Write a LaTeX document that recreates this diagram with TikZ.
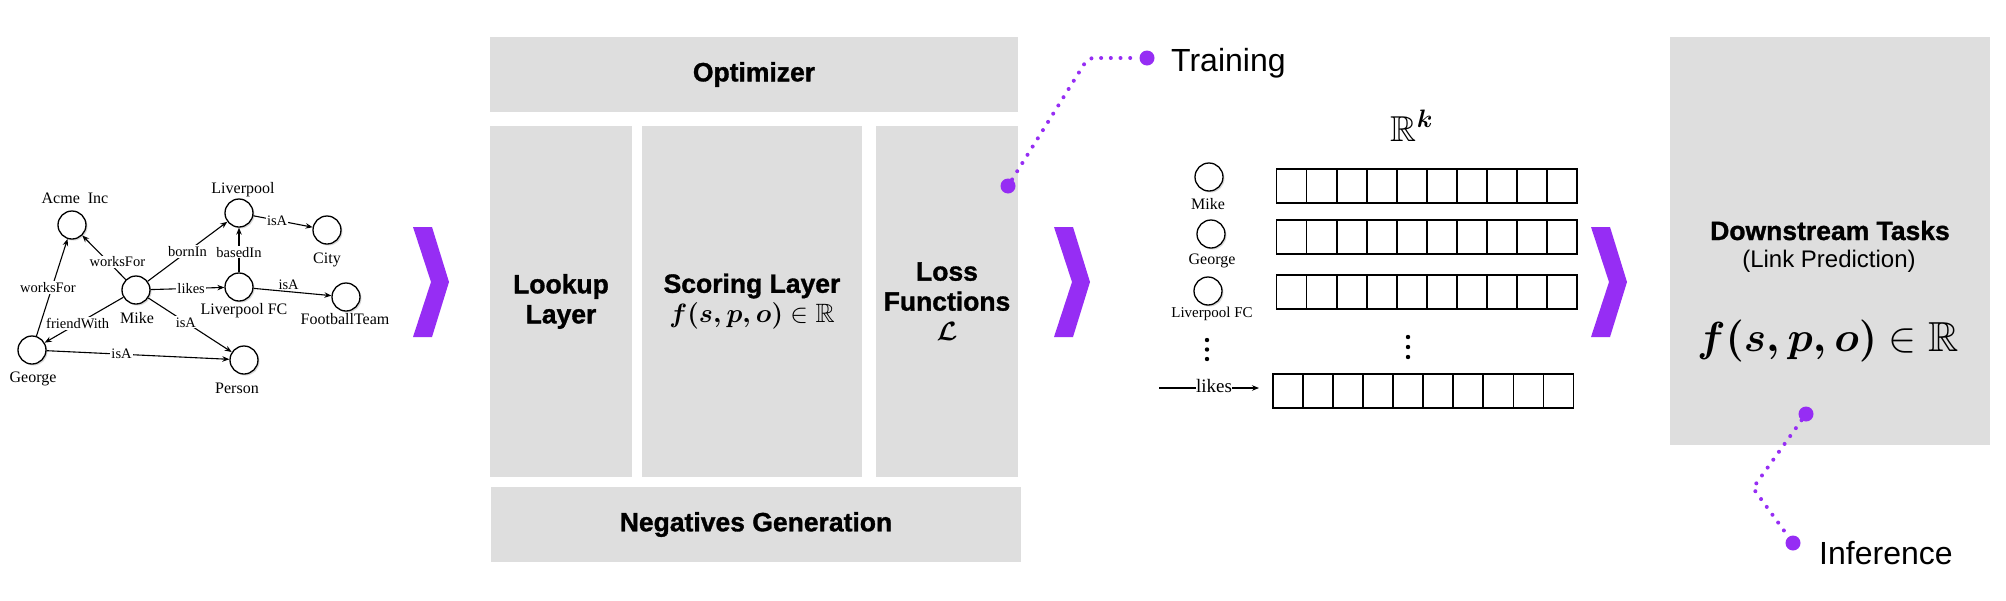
\documentclass[tikz,border=0pt]{standalone}
\usepackage{fix-cm}
\usepackage{fontspec}
\usepackage{amsmath,amssymb}
\DeclareFontFamily{U}{msb}{}
\DeclareFontShape{U}{msb}{m}{n}{<-> msbm10}{}
\setmainfont{Liberation Serif}
\setsansfont{Liberation Sans}[BoldFeatures={FakeBold=1.2}]
\usetikzlibrary{positioning,arrows.meta,shadows}

\definecolor{panelgrey}{HTML}{DEDEDE}
\definecolor{accpurple}{HTML}{962DF4}

\tikzset{
  panel/.style={fill=panelgrey, inner sep=0pt, align=center,
    font=\sffamily\bfseries\fontsize{26.5}{30}\selectfont},
  entity/.style={circle, draw, line width=1.3pt, fill=white, inner sep=0pt,
    minimum size=28pt, drop shadow={shadow xshift=1.5pt, shadow yshift=-1.5pt, opacity=0.3}},
  entname/.style={font=\fontsize{16}{18}\selectfont, inner sep=0pt, anchor=base},
  vname/.style={font=\fontsize{16}{18}\selectfont, inner sep=0pt, anchor=base},
  rel/.style={->, line width=1.1pt},
  rellabel/.style={fill=white, inner sep=1pt, font=\fontsize{14.5}{16}\selectfont},
  cell/.style={draw, line width=1.8pt},
  dotpath/.style={draw=accpurple, line width=4pt, line cap=round, dash pattern=on 0pt off 9.7pt},
  purpledot/.style={circle, fill=accpurple, inner sep=0pt, minimum size=15pt},
  phase/.style={font=\sffamily\fontsize{32}{34}\selectfont, inner sep=0pt, anchor=base west},
}

\begin{document}
\begin{tikzpicture}[x=1pt,y=-1pt,>={Stealth[length=7pt,width=5.5pt]}]
\useasboundingbox (0,0) rectangle (2006,600);
\fill[white] (0,0) rectangle (2006,600);

% knowledge graph
\node[entity] (acme) at (72,225) {};
\node[entity] (lpool) at (239,213) {};
\node[entity] (city) at (327,230) {};
\node[entity] (mike) at (136,290) {};
\node[entity] (lfc) at (239,287) {};
\node[entity] (team) at (346,297) {};
\node[entity] (george) at (32,350) {};
\node[entity] (person) at (244,360) {};
\node[entname] (acme-name) at (75,203) {Acme~~Inc};
\node[entname] (lpool-name) at (243,193) {Liverpool};
\node[entname] (city-name) at (327,263) {City};
\node[entname] (mike-name) at (137,323) {Mike};
\node[entname] (lfc-name) at (244,314) {Liverpool FC};
\node[entname] (team-name) at (345,324) {FootballTeam};
\node[entname] (george-name) at (33,382) {George};
\node[entname] (person-name) at (237,393) {Person};

\draw[rel] (mike) -- node[rellabel, pos=.4, xshift=9pt] {worksFor} (acme);
\draw[rel] (george) -- node[rellabel, pos=.5, xshift=-4pt] {worksFor} (acme);
\draw[rel] (mike) -- node[rellabel, pos=.5] {bornIn} (lpool);
\draw[rel] (lpool) -- node[rellabel, pos=.4] {isA} (city);
\draw[rel] (lfc) -- node[rellabel, pos=.45] {basedIn} (lpool);
\draw[rel] (mike) -- node[rellabel, pos=.55] {likes} (lfc);
\draw[rel] (lfc) -- node[rellabel, fill=none, above, pos=.45] {isA} (team);
\draw[rel] (mike) -- node[rellabel, pos=.58] {friendWith} (george);
\draw[rel] (mike) -- node[rellabel, pos=.45] {isA} (person);
\draw[rel] (george) -- node[rellabel, pos=.41] {isA} (person);

% chevrons
\foreach \x in {413,1054,1591}
  \fill[accpurple] (\x,227) -- ++(19,0) -- ++(17,55) -- ++(-17,55) -- ++(-19,0) -- ++(18,-55) -- cycle;

% model blocks
\node[panel, minimum width=528pt, minimum height=75pt] (optim) at (754,74.5) {Optimizer};
\node[panel, minimum width=142pt, minimum height=351pt] (lookup) at (561,301.5) {Lookup\\Layer};
\node[panel, minimum width=220pt, minimum height=351pt] (scoring) at (752,301.5) {Scoring Layer\\$\boldsymbol{f(s,p,o)}\in\mathbb{R}$};
\node[panel, minimum width=142pt, minimum height=351pt] (loss) at (947,301.5) {Loss\\Functions\\$\boldsymbol{\mathcal{L}}$};
\node[panel, minimum width=530pt, minimum height=75pt] (neg) at (756,524.5) {Negatives Generation};

% training
\node[purpledot] (trainstart) at (1008,186) {};
\node[purpledot] (trainend) at (1147,58) {};
\draw[dotpath, rounded corners=6pt] (trainstart) -- (1088,58) -- (trainend);
\node[phase] (training) at (1171,71) {Training};

% embeddings
\node[entity] (emike) at (1209,177) {};
\node[entity] (egeorge) at (1211,234) {};
\node[entity] (elfc) at (1208,291) {};
\node[vname] (emike-name) at (1208,209) {Mike};
\node[vname] (egeorge-name) at (1212,264) {George};
\node[vname, font=\fontsize{15}{17}\selectfont] (elfc-name) at (1212,317) {Liverpool FC};
\node[inner sep=0pt, anchor=base] (space) at (1412,141) {\fontsize{36}{38}\selectfont$\mathbb{R}^{\boldsymbol{k}}$};
\foreach \y in {169,220,275}
  \foreach \i in {0,...,9}
    \draw[cell] ({1276.5+30.05*\i},\y) rectangle ++(30.05,34);
\foreach \i in {0,...,9}
  \draw[cell] ({1273+30.05*\i},374) rectangle ++(30.05,34);
\foreach \y in {340,349.5,359} \fill (1207,\y) circle (2.2pt);
\foreach \y in {337,347,357} \fill (1408,\y) circle (2.2pt);
\node[vname, anchor=center, font=\fontsize{19}{20}\selectfont] (likes) at (1214,386) {likes};
\coordinate (likesfrom) at (1159,388);
\coordinate (row4) at (1273,388);
\draw[line width=1.3pt] (likesfrom) -- (likesfrom -| likes.west);
\draw[rel, line width=1.3pt, shorten >=14pt] (likes.east |- row4) -- (row4);

% downstream
\node[panel, minimum width=320pt, minimum height=408pt] (down) at (1830,241) {};
\node[inner sep=0pt, anchor=base, font=\sffamily\bfseries\fontsize{26.5}{28}\selectfont] (down-title) at (1830,240) {Downstream Tasks};
\node[inner sep=0pt, anchor=base, font=\sffamily\fontsize{24}{26}\selectfont] (down-sub) at (1829,267) {(Link Prediction)};
\node[inner sep=0pt, anchor=base, font=\fontsize{42}{44}\selectfont] (down-f) at (1828,351) {$\boldsymbol{f(s,p,o)}\in\mathbb{R}$};

% inference
\node[purpledot] (infstart) at (1806,414) {};
\node[purpledot] (infend) at (1793,543) {};
\draw[dotpath] (infstart) -- (1753,488) -- (infend);
\node[phase] (inference) at (1819,564) {Inference};
\end{tikzpicture}
\end{document}
